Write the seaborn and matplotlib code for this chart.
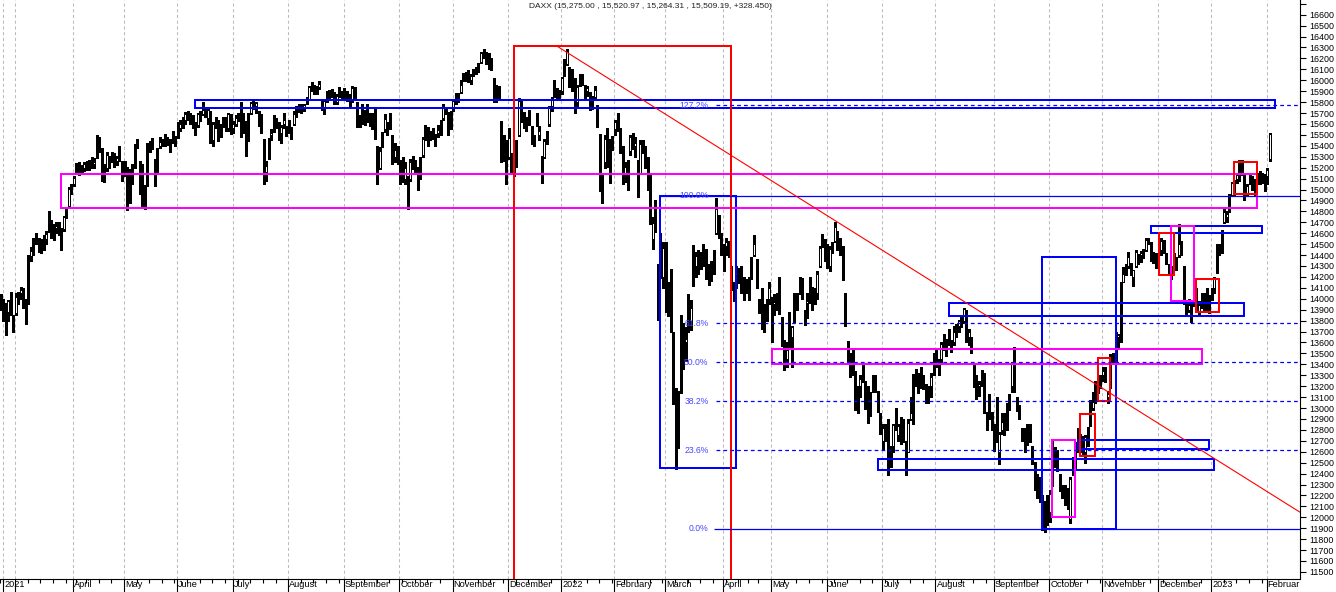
import numpy as np
import pandas as pd
import matplotlib
matplotlib.use("Agg")
import matplotlib.pyplot as plt
from matplotlib.patches import Rectangle
import seaborn as sns

# DAX daily candles, 19 Feb 2021 .. 2 Feb 2023, one line per month
opens = [
    13930, 13990, 13900, 13880, 14000, 13750,
    13870, 14020, 14050, 14050, 13980, 13960, 14390, 14420, 14560, 14520, 14530, 14480, 14550, 14620, 14700, 14580, 14650, 14650, 14580, 14640, 14760, 14850, 15000,
    15050, 15150, 15220, 15180, 15200, 15220, 15220, 15260, 15230, 15300, 15440, 15360, 15140, 15200, 15250, 15300, 15310, 15260, 15320, 15250,
    15160, 15200, 14900, 15200, 15220, 15420, 15250, 15120, 14860, 15040, 15400, 15420, 15260, 15150, 15400, 15440, 15480, 15460, 15420, 15440, 15480,
    15480, 15560, 15620, 15640, 15700, 15670, 15640, 15590, 15590, 15700, 15690, 15720, 15650, 15700, 15450, 15600, 15620, 15500, 15600, 15620, 15560, 15660,
    15560, 15600, 15660, 15680, 15550, 15620, 15450, 15700, 15780, 15760, 15700, 15650, 15450, 15160, 15300, 15500, 15550, 15620, 15600, 15520, 15600, 15560,
    15600, 15560, 15600, 15700, 15740, 15760, 15750, 15790, 15830, 15930, 15930, 15930, 15940, 15800, 15750, 15850, 15890, 15890, 15850, 15800, 15880, 15890,
    15860, 15850, 15840, 15820, 15920, 15780, 15640, 15680, 15660, 15740, 15680, 15640, 15700, 15380, 15200, 15400, 15550, 15600, 15580, 15480, 15300, 15320,
    15200, 15180, 15100, 15100, 15100, 15260, 15230, 15170, 15160, 15320, 15480, 15550, 15500, 15550, 15500, 15520, 15560, 15650, 15730, 15690, 15650,
    15740, 15840, 15870, 15890, 16000, 16040, 16070, 16000, 16060, 16100, 16120, 16170, 16230, 16240, 16240, 16160, 16000, 15950, 15900, 15620, 15400, 15300,
    15300, 15300, 15350, 15230, 15500, 15790, 15700, 15600, 15680, 15570, 15480, 15600, 15500, 15300, 15300, 15450, 15600, 15760, 15880, 15900, 15880,
    15900, 16050, 16150, 16100, 16080, 15950, 15800, 15990, 16050, 15950, 15900, 15880, 15800, 15850, 15750, 15500, 15000, 15250, 15300, 15400, 15400,
    15550, 15650, 15500, 15300, 15150, 15150, 15350, 15450, 15400, 15220, 15150, 15400, 15350, 15280, 15100, 14550, 14800, 14300, 14200, 14200,
    14500, 14050, 14150, 13600, 12950, 12900, 13150, 13770, 13600, 13770, 13800, 14150, 14300, 14350, 14370, 14360, 14450, 14200, 14300, 14300, 14600, 14700, 14550,
    14450, 14480, 14500, 14250, 14100, 14150, 14250, 14200, 14150, 14100, 14150, 14200, 14400, 14350, 13950, 13950, 13800, 13850, 14000,
    14000, 13950, 14000, 14150, 13800, 13600, 13450, 13600, 13650, 13800, 14000, 14050, 14150, 13800, 13960, 14000, 14100, 14000, 14050, 14300, 14500, 14500,
    14400, 14300, 14470, 14530, 14600, 14550, 14450, 14000, 13600, 13400, 13350, 13300, 13000, 13200, 13300, 13200, 13150, 12950, 13200, 13200, 13150, 12900,
    12700, 12850, 12800, 12500, 12650, 12900, 12750, 12700, 12850, 12650, 12600, 12900, 12950, 13300, 13300, 13300, 13250, 13200, 13150, 13200, 13350,
    13500, 13400, 13450, 13600, 13600, 13650, 13600, 13600, 13750, 13750, 13800, 13800, 13850, 13650, 13600, 13400, 13200, 13200, 13250, 13300, 12900, 12950, 12900,
    12800, 12700, 12600, 12800, 12800, 12950, 13000, 13200, 13400, 13050, 13000, 12800, 12650, 12750, 12750, 12600, 12500, 12300, 12250, 12100, 12100, 12000,
    12050, 12300, 12600, 12550, 12400, 12250, 12250, 12200, 11980, 12400, 12500, 12680, 12700, 12650, 12600, 12800, 12850, 13000, 13100, 13200, 13250,
    13300, 13350, 13100, 13200, 13450, 13450, 13650, 13650, 14150, 14250, 14300, 14300, 14200, 14300, 14400, 14400, 14400, 14450, 14530, 14500, 14400, 14400,
    14450, 14450, 14500, 14400, 14300, 14250, 14300, 14350, 14400, 14450, 14300, 13900, 13900, 13850, 13950, 14050, 13880, 13950, 14000, 13900, 14000,
    14000, 14100, 14250, 14460, 14450, 14700, 14750, 14800, 14950, 15050, 15100, 15150, 15200, 15100, 14950, 15100, 15100, 15050, 15100, 15150, 15150, 15100,
    15120, 15275,
]
highs = [
    14040, 14000, 13960, 13990, 14060, 13850,
    14050, 14060, 14110, 14100, 14000, 14400, 14470, 14560, 14600, 14560, 14550, 14580, 14620, 14800, 14720, 14680, 14700, 14700, 14650, 14760, 14830, 15020, 15050,
    15120, 15240, 15250, 15220, 15250, 15260, 15270, 15300, 15290, 15500, 15480, 15380, 15230, 15340, 15310, 15340, 15330, 15310, 15400, 15260,
    15260, 15210, 15190, 15230, 15420, 15460, 15260, 15230, 15040, 15430, 15440, 15470, 15280, 15380, 15480, 15460, 15510, 15480, 15460, 15540, 15490,
    15620, 15640, 15660, 15710, 15720, 15700, 15680, 15620, 15700, 15720, 15800, 15750, 15740, 15720, 15620, 15660, 15640, 15600, 15660, 15660, 15700, 15690,
    15630, 15680, 15700, 15800, 15700, 15630, 15700, 15800, 15810, 15800, 15720, 15690, 15460, 15260, 15470, 15550, 15680, 15650, 15620, 15590, 15700, 15580,
    15640, 15570, 15720, 15760, 15780, 15780, 15780, 15850, 15950, 15980, 15960, 15950, 15990, 15820, 15830, 15900, 15910, 15920, 15890, 15870, 15940, 15900,
    15930, 15900, 15870, 15950, 15940, 15800, 15680, 15780, 15730, 15780, 15700, 15700, 15740, 15400, 15390, 15530, 15690, 15620, 15700, 15500, 15430, 15400,
    15270, 15300, 15250, 15120, 15280, 15310, 15270, 15210, 15300, 15480, 15590, 15570, 15540, 15560, 15510, 15590, 15640, 15780, 15750, 15710, 15720,
    15830, 15880, 15880, 16000, 16070, 16080, 16090, 16060, 16100, 16120, 16160, 16260, 16290, 16260, 16250, 16200, 16020, 15960, 15950, 15630, 15500, 15450,
    15560, 15330, 15420, 15450, 15840, 15830, 15710, 15660, 15730, 15580, 15500, 15700, 15580, 15310, 15460, 15540, 15760, 15850, 16000, 15930, 15910,
    16030, 16190, 16290, 16120, 16100, 16020, 15960, 16060, 16060, 15960, 15950, 15890, 15860, 15950, 15770, 15510, 15130, 15500, 15560, 15460, 15490,
    15640, 15700, 15560, 15400, 15250, 15270, 15500, 15520, 15480, 15270, 15450, 15450, 15400, 15300, 15150, 14750, 14900, 14320, 14600, 14520,
    14520, 14150, 14270, 13700, 13180, 13160, 13850, 13780, 13740, 14040, 13990, 14490, 14430, 14450, 14430, 14500, 14460, 14320, 14350, 14450, 14925, 14770, 14600,
    14500, 14560, 14530, 14300, 14150, 14300, 14280, 14300, 14200, 14180, 14200, 14380, 14580, 14360, 14000, 14100, 13950, 14000, 14150,
    14020, 14040, 14050, 14200, 13830, 13620, 13600, 13880, 13750, 14050, 14050, 14200, 14190, 13900, 14050, 14200, 14110, 14100, 14250, 14480, 14590, 14550,
    14500, 14480, 14520, 14700, 14620, 14560, 14480, 14050, 13610, 13500, 13540, 13340, 13200, 13300, 13400, 13250, 13200, 13150, 13300, 13300, 13160, 12950,
    12850, 12850, 12900, 12650, 12850, 13000, 12850, 12920, 12900, 12700, 12900, 13100, 13300, 13360, 13320, 13380, 13300, 13220, 13200, 13320, 13500,
    13550, 13450, 13600, 13680, 13630, 13720, 13620, 13750, 13770, 13810, 13850, 13920, 13900, 13720, 13650, 13410, 13300, 13250, 13350, 13320, 12960, 13130, 12960,
    12850, 13100, 12780, 12950, 12950, 13050, 13130, 13420, 13560, 13100, 13030, 12820, 12820, 12850, 12850, 12650, 12510, 12400, 12370, 12200, 12150, 12200,
    12250, 12700, 12640, 12620, 12400, 12300, 12300, 12270, 12370, 12550, 12690, 12820, 12760, 12740, 12750, 12830, 13070, 13150, 13250, 13280, 13300,
    13380, 13380, 13160, 13490, 13500, 13700, 13680, 14150, 14290, 14320, 14430, 14330, 14260, 14450, 14410, 14440, 14460, 14560, 14560, 14520, 14430, 14420,
    14560, 14560, 14540, 14420, 14320, 14300, 14420, 14380, 14680, 14530, 14300, 13990, 14000, 13950, 14120, 14100, 13980, 14050, 14050, 14100, 14030,
    14100, 14200, 14500, 14500, 14630, 14830, 14800, 14960, 15070, 15090, 15140, 15270, 15270, 15130, 15050, 15130, 15120, 15100, 15150, 15170, 15150, 15140,
    15200, 15521,
]
lows = [
    13900, 13800, 13670, 13800, 13850, 13700,
    13850, 13950, 14000, 13920, 13770, 13950, 14350, 14400, 14500, 14430, 14420, 14450, 14500, 14610, 14560, 14540, 14600, 14580, 14450, 14620, 14740, 14830, 14960,
    15030, 15140, 15130, 15140, 15170, 15180, 15180, 15200, 15200, 15290, 15340, 15080, 15070, 15170, 15200, 15250, 15210, 15220, 15260, 15080,
    15120, 14816, 14880, 15050, 15200, 15380, 14960, 14840, 14820, 15030, 15340, 15370, 15030, 15140, 15380, 15400, 15400, 15410, 15340, 15430, 15400,
    15470, 15540, 15560, 15600, 15640, 15600, 15560, 15500, 15570, 15630, 15680, 15660, 15600, 15430, 15400, 15560, 15440, 15480, 15570, 15540, 15540, 15510,
    15520, 15580, 15630, 15480, 15520, 15310, 15440, 15690, 15740, 15700, 15580, 15520, 15050, 15080, 15280, 15450, 15530, 15560, 15450, 15430, 15560, 15490,
    15520, 15460, 15590, 15660, 15710, 15700, 15720, 15780, 15820, 15900, 15870, 15870, 15920, 15730, 15690, 15800, 15830, 15850, 15780, 15780, 15850, 15830,
    15820, 15810, 15750, 15800, 15830, 15570, 15570, 15600, 15590, 15620, 15580, 15550, 15460, 15050, 15190, 15390, 15530, 15500, 15550, 15230, 15250, 15230,
    15050, 15070, 15050, 14820, 15080, 15190, 15140, 15000, 15100, 15300, 15450, 15400, 15450, 15460, 15400, 15480, 15500, 15640, 15690, 15500, 15550,
    15720, 15780, 15800, 15880, 15990, 15990, 15980, 15970, 16040, 16060, 16080, 16160, 16200, 16150, 16100, 16090, 15800, 15800, 15840, 15250, 15260, 15050,
    15280, 15150, 15120, 15210, 15490, 15620, 15560, 15540, 15590, 15420, 15400, 15580, 15450, 15060, 15290, 15420, 15580, 15720, 15850, 15820, 15820,
    15870, 16040, 16140, 15940, 15900, 15700, 15760, 15950, 15960, 15820, 15860, 15730, 15740, 15830, 15570, 14990, 14880, 15200, 15210, 15060, 15360,
    15500, 15540, 15330, 15050, 15070, 15000, 15320, 15370, 15300, 14930, 15140, 15330, 15200, 15000, 14680, 14460, 14610, 13810, 14190, 14100,
    13880, 13840, 13720, 13040, 12440, 12630, 13140, 13360, 13430, 13700, 13710, 14120, 14200, 14230, 14270, 14300, 14180, 14130, 14160, 14230, 14590, 14560, 14400,
    14250, 14400, 14380, 14080, 13980, 14100, 14140, 14050, 13990, 14050, 13990, 14180, 14390, 14100, 13870, 13720, 13700, 13800, 13950,
    13600, 13850, 13900, 13860, 13570, 13350, 13380, 13550, 13380, 13790, 13900, 14040, 14000, 13760, 13820, 13960, 13900, 13950, 14000, 14290, 14470, 14350,
    14280, 14250, 14420, 14520, 14450, 14400, 14170, 13750, 13400, 13280, 13300, 12980, 12950, 13100, 13240, 12990, 12860, 12930, 13150, 13150, 12960, 12760,
    12620, 12700, 12390, 12460, 12600, 12800, 12700, 12670, 12690, 12390, 12600, 12890, 12850, 13200, 13140, 13180, 13170, 13050, 13050, 13100, 13300,
    13380, 13300, 13420, 13530, 13480, 13580, 13510, 13580, 13650, 13700, 13740, 13780, 13600, 13580, 13500, 13190, 13080, 13110, 13200, 12950, 12800, 12900, 12800,
    12610, 12690, 12490, 12760, 12750, 12800, 12980, 13150, 13150, 12970, 12900, 12700, 12600, 12660, 12690, 12490, 12250, 12180, 12140, 11880, 11862, 11930,
    11960, 12290, 12460, 12420, 12240, 12180, 12110, 12080, 11950, 12390, 12450, 12600, 12600, 12580, 12500, 12650, 12840, 12980, 13050, 13140, 13180,
    13250, 13240, 13050, 13180, 13400, 13400, 13550, 13600, 14150, 14220, 14280, 14220, 14120, 14290, 14320, 14340, 14370, 14440, 14500, 14350, 14330, 14280,
    14420, 14400, 14420, 14320, 14230, 14180, 14270, 14260, 14380, 14400, 13950, 13850, 13880, 13790, 13930, 13880, 13850, 13920, 13900, 13890, 13870,
    13990, 14050, 14240, 14400, 14420, 14690, 14700, 14790, 14940, 14950, 15060, 15080, 15130, 14900, 14940, 15050, 15000, 14950, 15050, 15050, 15060, 14990,
    15050, 15264,
]
closes = [
    13993, 13950, 13865, 13976, 13879, 13786,
    14012, 14039, 14080, 14056, 13920, 14380, 14437, 14540, 14569, 14502, 14461, 14557, 14596, 14775, 14621, 14657, 14662, 14610, 14621, 14749, 14818, 15008, 15008,
    15107, 15212, 15176, 15202, 15234, 15215, 15234, 15209, 15255, 15460, 15368, 15129, 15195, 15320, 15280, 15296, 15249, 15292, 15307, 15136,
    15236, 14856, 15170, 15197, 15400, 15400, 15120, 14851, 14999, 15417, 15396, 15386, 15114, 15370, 15437, 15438, 15465, 15450, 15406, 15520, 15421,
    15567, 15603, 15632, 15693, 15677, 15640, 15581, 15571, 15693, 15674, 15729, 15711, 15727, 15448, 15603, 15636, 15456, 15589, 15607, 15554, 15691, 15531,
    15604, 15650, 15661, 15511, 15692, 15421, 15688, 15791, 15790, 15788, 15630, 15540, 15133, 15216, 15422, 15514, 15669, 15618, 15519, 15570, 15640, 15544,
    15568, 15555, 15692, 15744, 15761, 15745, 15770, 15826, 15937, 15977, 15925, 15922, 15965, 15765, 15808, 15853, 15906, 15860, 15794, 15852, 15888, 15835,
    15824, 15840, 15781, 15932, 15844, 15610, 15623, 15609, 15701, 15722, 15616, 15652, 15490, 15132, 15349, 15506, 15644, 15532, 15573, 15249, 15365, 15261,
    15156, 15125, 15195, 14973, 15251, 15206, 15199, 15147, 15250, 15463, 15587, 15474, 15516, 15523, 15472, 15543, 15599, 15757, 15705, 15696, 15688,
    15806, 15855, 15812, 15960, 16054, 16047, 16041, 16040, 16083, 16094, 16148, 16248, 16251, 16221, 16160, 16116, 15937, 15879, 15917, 15257, 15280, 15100,
    15473, 15263, 15170, 15381, 15813, 15687, 15639, 15623, 15621, 15453, 15476, 15636, 15532, 15240, 15447, 15524, 15756, 15838, 15964, 15853, 15885,
    16021, 16152, 16271, 16052, 15948, 15768, 15942, 16011, 16031, 15883, 15933, 15773, 15810, 15912, 15603, 15011, 15123, 15460, 15525, 15318, 15471,
    15619, 15613, 15368, 15100, 15206, 15242, 15482, 15490, 15425, 15113, 15412, 15370, 15267, 15042, 14731, 14693, 14631, 14052, 14567, 14461,
    13905, 14000, 13698, 13094, 12835, 12831, 13847, 13442, 13628, 13929, 13918, 14441, 14388, 14413, 14326, 14473, 14283, 14274, 14306, 14418, 14820, 14606, 14415,
    14446, 14518, 14424, 14152, 14078, 14283, 14193, 14124, 14076, 14163, 14153, 14362, 14502, 14142, 13924, 13757, 13795, 13979, 14098,
    13939, 13970, 13971, 13902, 13674, 13381, 13535, 13828, 13739, 14027, 13964, 14186, 14007, 13882, 13982, 14176, 13919, 14008, 14231, 14462, 14575, 14388,
    14340, 14460, 14460, 14653, 14556, 14445, 14198, 13762, 13427, 13304, 13483, 13038, 13126, 13265, 13292, 13145, 12912, 13118, 13186, 13232, 13003, 12784,
    12813, 12773, 12401, 12595, 12843, 12833, 12832, 12905, 12756, 12520, 12864, 12959, 13308, 13282, 13247, 13254, 13210, 13097, 13166, 13282, 13484,
    13479, 13449, 13587, 13662, 13573, 13688, 13535, 13700, 13694, 13795, 13816, 13910, 13627, 13698, 13544, 13230, 13194, 13220, 13271, 12971, 12893, 12961, 12835,
    12630, 13050, 12761, 12872, 12916, 12905, 13088, 13402, 13189, 13028, 12957, 12741, 12803, 12671, 12768, 12531, 12284, 12228, 12140, 12139, 11975, 12114,
    12209, 12671, 12518, 12471, 12273, 12272, 12219, 12172, 12355, 12438, 12649, 12765, 12741, 12667, 12731, 12819, 13053, 13053, 13211, 13243, 13253,
    13339, 13257, 13130, 13460, 13428, 13689, 13666, 14146, 14224, 14313, 14378, 14234, 14266, 14431, 14380, 14422, 14427, 14539, 14541, 14383, 14356, 14397,
    14490, 14529, 14447, 14343, 14261, 14264, 14370, 14306, 14497, 14460, 13987, 13893, 13942, 13885, 14098, 13914, 13941, 13996, 13926, 14071, 13924,
    14070, 14182, 14490, 14436, 14610, 14792, 14774, 14948, 15058, 15087, 15134, 15187, 15181, 14920, 15033, 15103, 15093, 15081, 15132, 15150, 15126, 15128,
    15180, 15509,
]

# Xetra holidays that fall on weekdays in the range
holidays = ["2021-04-02", "2021-04-05", "2021-12-24", "2021-12-31",
            "2022-04-15", "2022-04-18", "2022-12-26"]

# drawn boxes: (start day, end day, top, bottom)
blue_boxes = [
    ("2021-06-10", "2023-02-06", 15815, 15745),
    ("2022-02-25", "2022-04-08", 14941, 12454),
    ("2022-06-29", "2023-01-03", 12531, 12431),
    ("2022-10-18", "2022-12-30", 12703, 12623),
    ("2022-09-28", "2022-11-08", 14380, 11891),
    ("2022-08-08", "2023-01-19", 13959, 13840),
    ("2022-11-28", "2023-01-30", 14663, 14599),
]
magenta_boxes = [
    ("2021-03-25", "2023-01-26", 15142, 14828),
    ("2022-05-02", "2022-12-27", 13538, 13401),
    ("2022-10-04", "2022-10-17", 12703, 12007),
    ("2022-12-08", "2022-12-21", 14663, 13977),
]
red_boxes = [
    ("2021-12-03", "2022-04-06", 16313, 11000),
    ("2022-10-19", "2022-10-27", 12946, 12559),
    ("2022-10-28", "2022-11-04", 13455, 13068),
    ("2022-12-01", "2022-12-09", 14599, 14215),
    ("2022-12-22", "2023-01-05", 14178, 13876),
    ("2023-01-13", "2023-01-26", 15255, 14956),
]

# red downtrend line (start, end)
trend_days = ["2021-12-29", "2023-02-20"]
trend_prices = [16313, 12046]

# fibonacci retracement levels
fib_labels = ["0.0%", "23.6%", "38.2%", "50.0%", "61.8%", "100.0%", "127.2%"]
fib_prices = [11897, 12615, 13060, 13419, 13778, 14941, 15769]
fib_solid = [True, False, False, False, False, True, False]
fib_starts = ["2022-03-28", "2022-03-29", "2022-03-29", "2022-03-29", "2022-03-29", "2022-02-25", "2022-03-29"]

month_names = {1: "January", 2: "February", 3: "March", 4: "April", 5: "May", 6: "June",
               7: "July", 8: "August", 9: "September", 10: "October", 11: "November", 12: "December"}

title = "DAXX (15,275.00 , 15,520.97 , 15,264.31 , 15,509.19, +328.450)"

sns.set_theme(style="white")
plt.rcParams["font.family"] = ["Liberation Sans", "DejaVu Sans"]

days = pd.bdate_range("2021-02-19", "2023-02-20")
days = days[~days.isin(pd.to_datetime(holidays))]
n = len(closes)
if not (len(opens) == len(highs) == len(lows) == n == 503):
    raise ValueError(f"lengths {len(opens)} {len(highs)} {len(lows)} {n}")
pos = pd.Series(np.arange(len(days)), index=days)


def px(d):
    return pos[pd.Timestamp(d)]


df = pd.DataFrame({"open": opens, "high": highs, "low": lows, "close": closes}, index=days[:n])
df["x"] = np.arange(n)
up = df["close"] >= df["open"]
body_lo = df[["open", "close"]].min(axis=1)
body_hi = df[["open", "close"]].max(axis=1)

fig = plt.figure(figsize=(13.36, 5.92), dpi=100)
fig.patch.set_facecolor("white")
ax = fig.add_axes([0, 13.3 / 592, 1300 / 1336, 578.7 / 592])
ax.set_facecolor("white")
ax.set_xlim(0.23, 513.96)
ax.set_ylim(11438, 16734.5)

# month grid
data_days = days[:n]
firsts = data_days.to_series().groupby([data_days.year, data_days.month]).first()
grid_x = [pos[d] - 0.25 for d in firsts]
grid_x[0] = 0.9
ax.vlines(grid_x, 11438, 16734.5, colors="#bcbcbc", linestyles=(0, (3, 2.5)), lw=0.75, zorder=1)

# candles
ax.vlines(df["x"], np.minimum(df["low"], body_lo), np.maximum(df["high"], body_hi),
          color="black", lw=0.75, zorder=2, antialiased=False)
ax.bar(df["x"], np.maximum(body_hi - body_lo, 6), bottom=body_lo, width=0.6,
       color=np.where(up, "white", "black"), edgecolor="black", linewidth=0.72,
       zorder=2.5, antialiased=False)

# boxes
for boxes, col in [(blue_boxes, "#0000ff"), (magenta_boxes, "#ff00ff"), (red_boxes, "#ff0000")]:
    for s, e, top, bot in boxes:
        ax.add_patch(Rectangle((px(s), bot), px(e) - px(s), top - bot, fill=False,
                               edgecolor=col, lw=1.2, zorder=3, antialiased=False))

# fibonacci lines and labels
right_end = px("2023-02-20")
label_x = px("2022-03-24")
for lab, price, solid, start in zip(fib_labels, fib_prices, fib_solid, fib_starts):
    ls = "-" if solid else (0, (3, 2.5))
    ax.hlines(price, px(start), right_end, colors="#0000ff", linestyles=ls, lw=0.9, zorder=3)
    ax.text(label_x, price, lab, ha="right", va="center", fontsize=6.2, color="#4646ff", zorder=4)

# trend line
sns.lineplot(x=[px(d) for d in trend_days], y=trend_prices, ax=ax, color="#ff0000",
             lw=0.8, zorder=4, legend=False)

# y axis on the right
ax.yaxis.tick_right()
yt = list(range(11500, 16800, 100))
ax.set_yticks(yt)
ax.set_yticklabels([str(v) if v <= 16600 else "" for v in yt])
ax.tick_params(axis="y", which="both", right=True, left=False, direction="out",
               length=4.3, width=0.8, pad=2.2, labelsize=6.4, colors="black")

# x axis: month ticks + weekly minor ticks, labels drawn as text
ax.set_xticks(grid_x)
ax.set_xticklabels([])
iso = data_days.isocalendar()
weeks = data_days.to_series().groupby([iso.year, iso.week]).first()
ax.set_xticks([pos[d] - 0.25 for d in weeks], minor=True)
ax.tick_params(axis="x", which="major", bottom=True, direction="out", length=10, width=0.8, color="black")
ax.tick_params(axis="x", which="minor", bottom=True, direction="out", length=3, width=0.8, color="black")

for i, d in enumerate(firsts):
    if i == 1:
        continue  # March 2021 label hidden behind "2021"
    if i == 0 or d.month == 1:
        lab = str(d.year)
    else:
        lab = month_names[d.month]
    if i == len(firsts) - 1:
        lab = "Februar"
    ax.text(grid_x[i] + 0.45, -0.003, lab, transform=ax.get_xaxis_transform(),
            ha="left", va="top", fontsize=6.6, color="black", clip_on=False)

for side in ["left", "top"]:
    ax.spines[side].set_visible(False)
for side in ["right", "bottom"]:
    ax.spines[side].set_visible(True)
    ax.spines[side].set_color("black")
    ax.spines[side].set_linewidth(0.8)

fig.text(650 / 1336, 1 - 6.5 / 592, title, ha="center", va="center", fontsize=6, color="#202020")

fig.savefig("out.png", dpi=100, facecolor="white")
